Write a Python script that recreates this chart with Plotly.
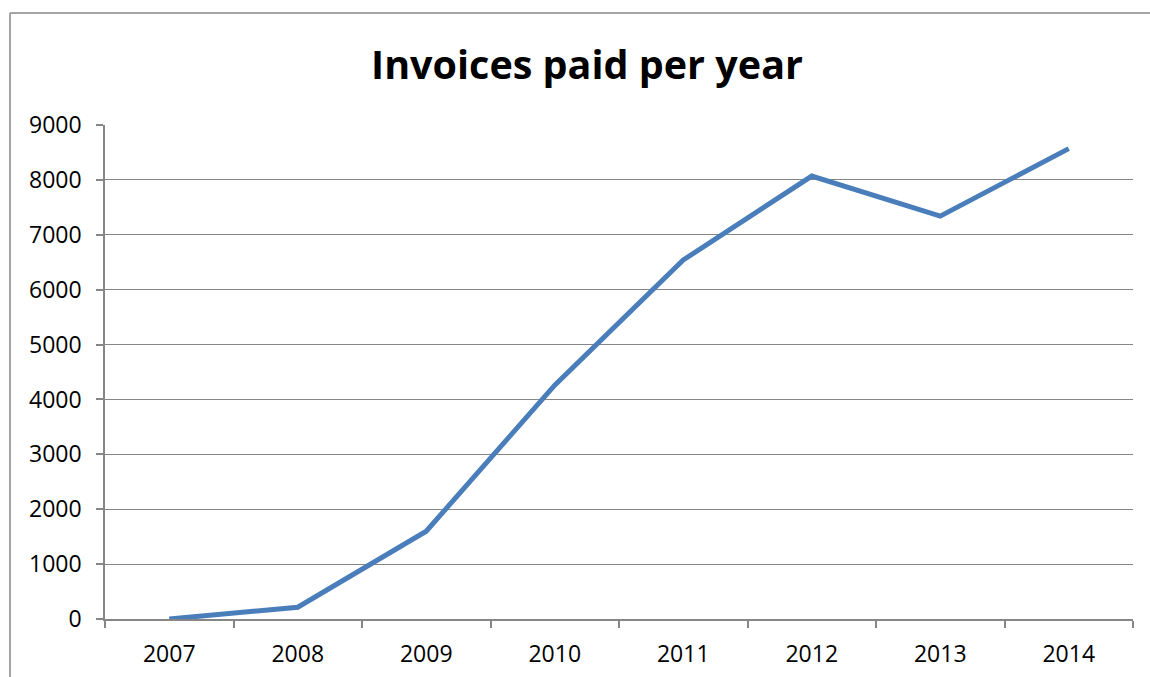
import plotly.graph_objects as go

years = ["2007", "2008", "2009", "2010", "2011", "2012", "2013", "2014"]
invoices = [0, 215, 1600, 4260, 6540, 8070, 7340, 8570]
y_ticks = [0, 1000, 2000, 3000, 4000, 5000, 6000, 7000, 8000, 9000]

FONT = "Open Sans"
GRAY = "#868686"

fig = go.Figure()
fig.add_trace(go.Scatter(
    x=years, y=invoices, mode="lines",
    line=dict(color="#4A7EBB", width=5),
    hoverinfo="x+y", showlegend=False,
))

L, R, T, B = 105, 17, 125, 58
W, H = 1150, 677
pw, ph = W - L - R, H - T - B

fx = (10 - L) / pw
fy = 1 + (T - 13) / ph
fx_right = 1 + (R + 5) / pw
fy_bottom = -(B + 5) / ph

fig.update_layout(
    width=W, height=H,
    margin=dict(l=L, r=R, t=T, b=B, pad=0, autoexpand=False),
    paper_bgcolor="white", plot_bgcolor="white",
    font=dict(family=FONT, size=24, color="black"),
    title=dict(text="<b>Invoices paid per year</b>", x=587 / W, xanchor="center",
               y=1 - 65 / H, yanchor="middle",
               font=dict(family=FONT, size=39.5, color="black")),
    xaxis=dict(
        type="category", range=[-0.5, 7.5], tickson="boundaries",
        showgrid=False, showline=True, linecolor=GRAY, linewidth=1.5,
        ticks="outside", ticklen=7, tickcolor=GRAY, tickwidth=1.5,
        ticklabelstandoff=14, automargin=False,
        tickfont=dict(family=FONT, size=23, color="black"),
        zeroline=False, fixedrange=True,
    ),
    yaxis=dict(
        range=[0, 9000], tickvals=y_ticks, ticktext=[str(v) for v in y_ticks],
        showgrid=True, gridcolor=GRAY, gridwidth=1.3,
        showline=True, linecolor=GRAY, linewidth=1.5,
        ticks="outside", ticklen=7, tickcolor=GRAY, tickwidth=1.5,
        ticklabelstandoff=10, automargin=False,
        tickfont=dict(family=FONT, size=23, color="black"),
        zeroline=False, fixedrange=True,
    ),
    shapes=[
        dict(type="line", xref="paper", yref="paper",
             x0=fx, x1=fx, y0=fy_bottom, y1=fy,
             line=dict(color=GRAY, width=1.5), layer="below"),
        dict(type="line", xref="paper", yref="paper",
             x0=fx, x1=fx_right, y0=fy, y1=fy,
             line=dict(color=GRAY, width=1.5), layer="below"),
    ],
)

fig.write_html(
    "out.html",
    post_script="document.documentElement.style.overflow='hidden';document.body.style.overflow='hidden';",
)
